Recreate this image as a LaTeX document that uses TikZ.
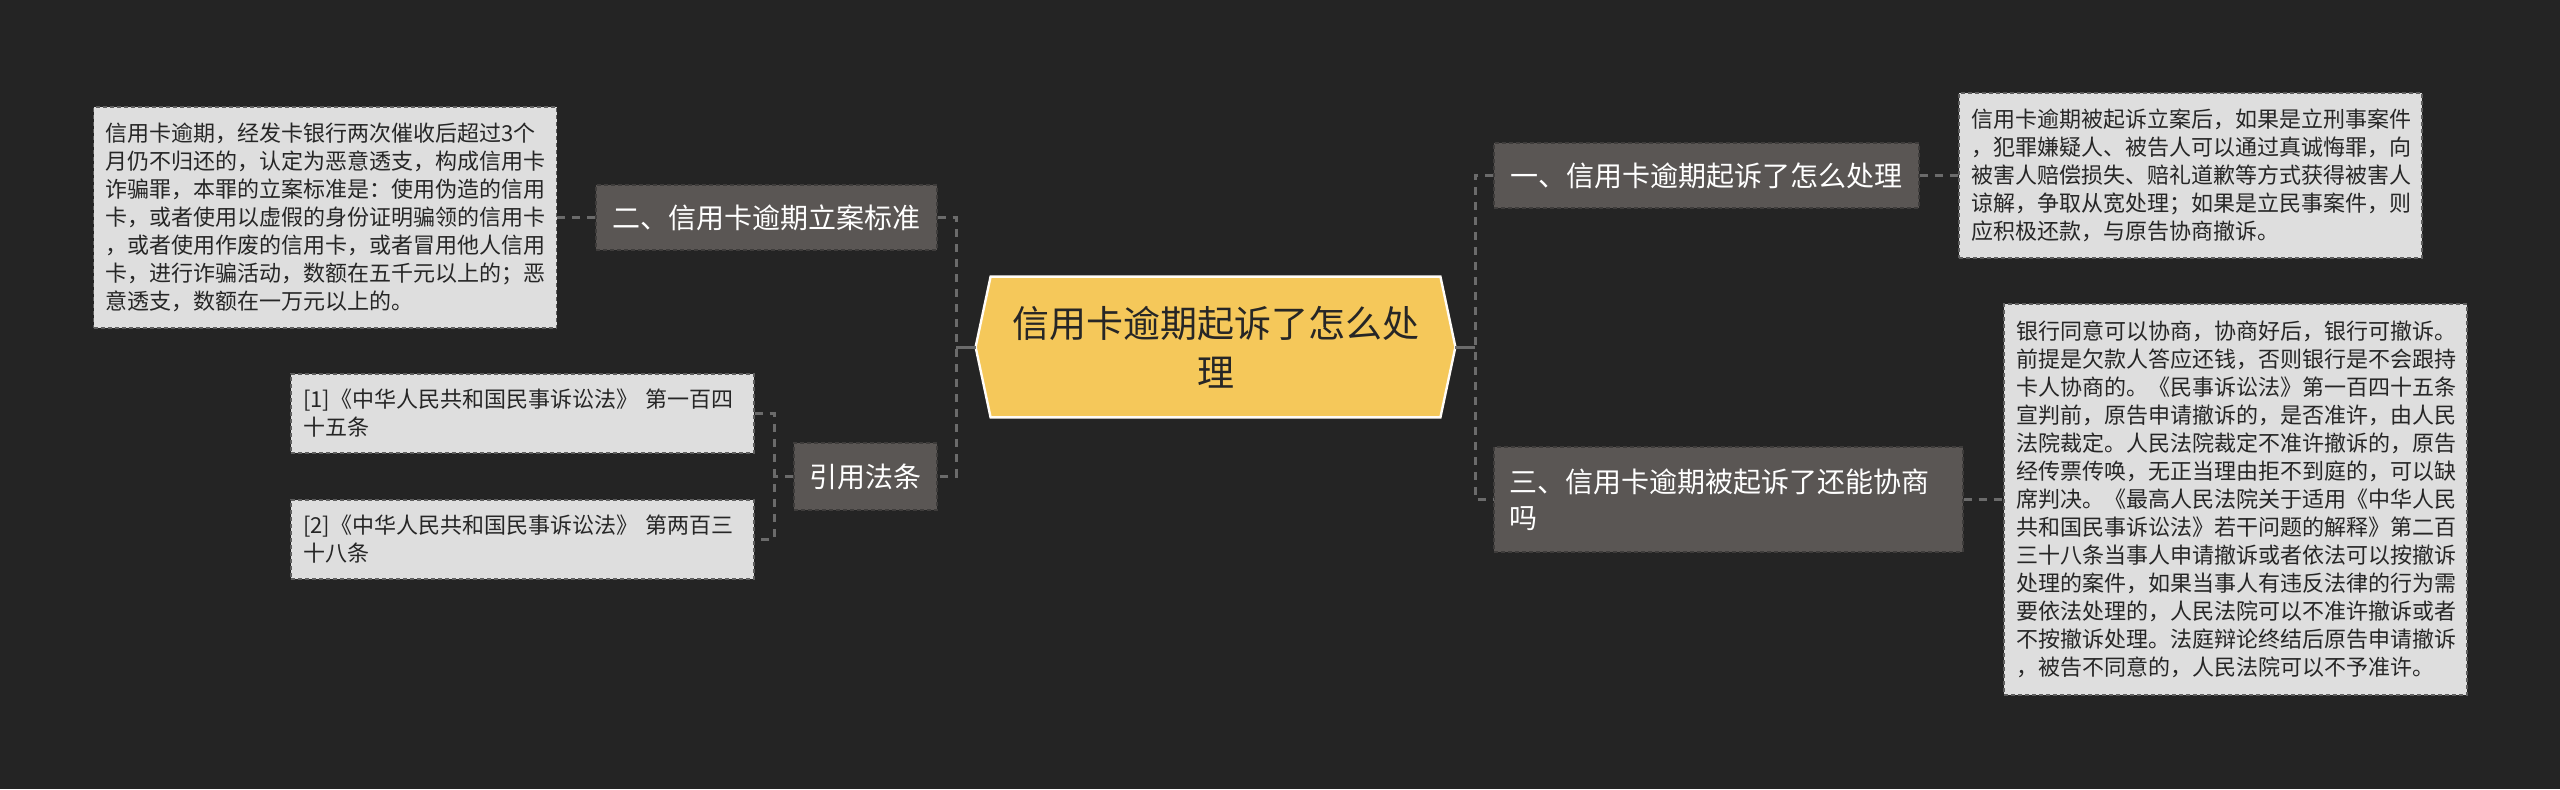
\documentclass[tikz,border=0pt]{standalone}
\usepackage{fontspec}
\setmainfont{Noto Sans CJK SC}
\pgfdeclarelayer{bg}
\pgfsetlayers{bg,main}
\definecolor{bgc}{HTML}{242424}
\definecolor{darkfill}{HTML}{5A5654}
\definecolor{leaffill}{HTML}{DEDEDE}
\definecolor{gold}{HTML}{F5C85A}
\definecolor{linec}{HTML}{6B6B6B}
\definecolor{leafborder}{HTML}{5E5E5E}
\definecolor{darkborder}{HTML}{3E3C3B}
\tikzset{
  conn/.style={draw=linec, line width=1.5pt, dash pattern=on 4pt off 3.5pt},
  solidconn/.style={draw=linec, line width=1.5pt},
  branch/.style={fill=darkfill, draw=darkborder, line width=0.6pt, dash pattern=on 2pt off 1.5pt,
    text=white, font=\fontsize{14}{18}\selectfont, inner sep=0pt, anchor=center},
  leaf/.style={fill=leaffill, draw=leafborder, line width=0.6pt, dash pattern=on 2pt off 1.5pt,
    text=black!85, font=\fontsize{11}{14}\selectfont, inner xsep=6pt, inner ysep=0pt,
    text width=219.5pt, align=left, anchor=center},
  rootnode/.style={text=black!85, font=\fontsize{18.5}{24.5}\selectfont, align=center,
    minimum width=239.5pt, minimum height=70pt, inner sep=0pt, anchor=center}
}
\begin{document}
\begin{tikzpicture}[x=0.5pt,y=-0.5pt]
\useasboundingbox (0,0) rectangle (2560,789);
\begin{pgfonlayer}{bg}
\fill[bgc] (0,0) rectangle (2560,789);
\end{pgfonlayer}

% root
\node[rootnode] (root) at (1215.5,347) {信用卡逾期起诉了怎么处\\理};
\begin{pgfonlayer}{bg}
\draw[fill=gold, draw=white!95!gold, line width=1.2pt, line join=miter]
  (root.west) -- ([xshift=7.5pt]root.north west) -- ([xshift=-7.5pt]root.north east)
  -- (root.east) -- ([xshift=-7.5pt]root.south east) -- ([xshift=7.5pt]root.south west) -- cycle;
\end{pgfonlayer}

% branches
\node[branch, minimum width=170.5pt, minimum height=32.5pt] (n2) at (766.5,217.5) {二、信用卡逾期立案标准};
\node[branch, minimum width=71.5pt, minimum height=33.5pt] (yin) at (865.5,476.5) {引用法条};
\node[branch, minimum width=212.5pt, minimum height=32.5pt] (n1) at (1706.5,175.5) {一、信用卡逾期起诉了怎么处理};
\node[branch, minimum height=52.5pt, text width=219.5pt, inner xsep=7.5pt, align=left] (n3) at (1728.5,499.5) {三、信用卡逾期被起诉了还能协商\\吗};

% leaves
\node[leaf, minimum height=110.5pt] (leafL) at (325,217.5) {信用卡逾期，经发卡银行两次催收后超过3个\\月仍不归还的，认定为恶意透支，构成信用卡\\诈骗罪，本罪的立案标准是：使用伪造的信用\\卡，或者使用以虚假的身份证明骗领的信用卡\\，或者使用作废的信用卡，或者冒用他人信用\\卡，进行诈骗活动，数额在五千元以上的；恶\\意透支，数额在一万元以上的。};
\node[leaf, minimum height=39.5pt] (law1) at (522.5,413.5) {[1]《中华人民共和国民事诉讼法》 第一百四\\十五条};
\node[leaf, minimum height=39.5pt] (law2) at (522.5,539.5) {[2]《中华人民共和国民事诉讼法》 第两百三\\十八条};
\node[leaf, minimum height=82.5pt] (leafR1) at (2190.5,175.5) {信用卡逾期被起诉立案后，如果是立刑事案件\\，犯罪嫌疑人、被告人可以通过真诚悔罪，向\\被害人赔偿损失、赔礼道歉等方式获得被害人\\谅解，争取从宽处理；如果是立民事案件，则\\应积极还款，与原告协商撤诉。};
\node[leaf, minimum height=195.5pt] (leafR2) at (2235.5,499.5) {银行同意可以协商，协商好后，银行可撤诉。\\前提是欠款人答应还钱，否则银行是不会跟持\\卡人协商的。《民事诉讼法》第一百四十五条\\宣判前，原告申请撤诉的，是否准许，由人民\\法院裁定。人民法院裁定不准许撤诉的，原告\\经传票传唤，无正当理由拒不到庭的，可以缺\\席判决。《最高人民法院关于适用《中华人民\\共和国民事诉讼法》若干问题的解释》第二百\\三十八条当事人申请撤诉或者依法可以按撤诉\\处理的案件，如果当事人有违反法律的行为需\\要依法处理的，人民法院可以不准许撤诉或者\\不按撤诉处理。法庭辩论终结后原告申请撤诉\\，被告不同意的，人民法院可以不予准许。};

% junctions
\coordinate (jl) at (956,347);
\coordinate (jr) at (1475,347);
\coordinate (jy) at (774,476.5);

% connectors
\draw[conn] (n2.east) -| (jl) |- (yin.east);
\draw[solidconn] (root.west) -- (jl);
\draw[conn] (n1.west) -| (jr) |- (n3.west);
\draw[solidconn] (root.east) -- (jr);
\draw[conn] (leafL.east) -- (n2.west);
\draw[conn] (n1.east) -- (leafR1.west);
\draw[conn] (n3.east) -- (leafR2.west);
\draw[conn] (law1.east) -| (jy) |- (law2.east);
\draw[conn] (yin.west) -- (jy);
\end{tikzpicture}
\end{document}
